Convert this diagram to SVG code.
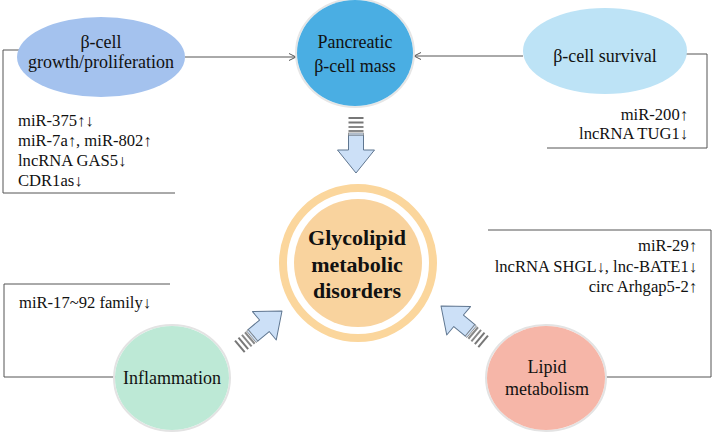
<svg xmlns="http://www.w3.org/2000/svg" width="713" height="435" viewBox="0 0 713 435">
<defs>
<marker id="open" markerUnits="userSpaceOnUse" markerWidth="10" markerHeight="10" viewBox="0 0 10 10" refX="8" refY="5" orient="auto">
<path d="M1 1.5 L8 5 L1 8.5" fill="none" stroke="#555" stroke-width="1"/>
</marker>
<g id="bigArrow">
<path d="M-7.5 -38 L7.5 -38 L7.5 -23 L18.5 -23 L0 0 L-18.5 -23 L-7.5 -23 Z" fill="#cce0f7" stroke="#5f7690" stroke-width="1" stroke-linejoin="round"/>
<rect x="-7.5" y="-56" width="15" height="2" fill="#777"/>
<rect x="-7.5" y="-51.5" width="15" height="2" fill="#777"/>
<rect x="-7.5" y="-47" width="15" height="2" fill="#888"/>
<rect x="-7.5" y="-43" width="15" height="2" fill="#888"/>
<rect x="-7.5" y="-40" width="15" height="2" fill="#cce0f7" stroke="#888" stroke-width="0.8"/>
</g>
</defs>
<style>
text{font-family:"Liberation Serif","Times New Roman",serif;fill:#111;}
.lbl{font-size:18px;text-anchor:middle;}
.lst{font-size:16.6px;}
.r{text-anchor:end;}
.main{font-size:22px;font-weight:bold;text-anchor:middle;}
.conn{fill:none;stroke:#555;stroke-width:1;}
</style>
<rect width="713" height="435" fill="#fff"/>

<g id="connectors">
<path class="conn" d="M19 50 H3 V193 H175"/>
<path class="conn" d="M185 57 H296" marker-end="url(#open)"/>
<path class="conn" d="M523 56 H414" marker-end="url(#open)"/>
<path class="conn" d="M686 54 H707 V148 H547"/>
<path class="conn" d="M116 377 H4 V284 H170"/>
<path class="conn" d="M604 377 H711 V230 H488"/>
<use href="#bigArrow" transform="translate(356,173)"/>
<use href="#bigArrow" transform="translate(282,311) rotate(-130)"/>
<use href="#bigArrow" transform="translate(441,306) rotate(130)"/>
</g>

<g id="growth">
<ellipse cx="101" cy="57" rx="84" ry="40" fill="#a4c2ee"/>
<text class="lbl" x="101" y="48">β-cell</text>
<text class="lbl" x="101" y="68">growth/proliferation</text>
<g class="lst">
<text x="18" y="126">miR-375↑↓</text>
<text x="18" y="146">miR-7a↑, miR-802↑</text>
<text x="18" y="166">lncRNA GAS5↓</text>
<text x="18" y="186">CDR1as↓</text>
</g>
</g>

<g id="mass">
<ellipse cx="355" cy="53" rx="59" ry="54" fill="none" stroke="#e6e6e6" stroke-width="2"/>
<ellipse cx="355" cy="53" rx="58" ry="53" fill="#4aaee3"/>
<text class="lbl" x="355" y="48">Pancreatic</text>
<text class="lbl" x="355" y="72">β-cell mass</text>
</g>

<g id="survival">
<ellipse cx="605" cy="51" rx="82" ry="43" fill="#bde3f6"/>
<text class="lbl" x="605" y="62">β-cell survival</text>
<g class="lst r">
<text x="688" y="120">miR-200↑</text>
<text x="688" y="139">lncRNA TUG1↓</text>
</g>
</g>

<g id="center">
<circle cx="358" cy="263" r="75" fill="none" stroke="#fbd69c" stroke-width="8"/>
<circle cx="358" cy="263" r="64" fill="#f9d39e"/>
<text class="main" x="357" y="245">Glycolipid</text>
<text class="main" x="357" y="272">metabolic</text>
<text class="main" x="357" y="298">disorders</text>
</g>

<g id="inflammation">
<ellipse cx="172" cy="378" rx="58" ry="53" fill="none" stroke="#e3e3e3" stroke-width="2"/>
<ellipse cx="172" cy="378" rx="57" ry="52" fill="#bde9d6"/>
<text class="lbl" x="172" y="384">Inflammation</text>
<text class="lst" x="19" y="308">miR-17~92 family↓</text>
</g>

<g id="lipid">
<ellipse cx="546" cy="378" rx="60" ry="53" fill="none" stroke="#e3e3e3" stroke-width="2"/>
<ellipse cx="546" cy="378" rx="59" ry="52" fill="#f6b6a8"/>
<text class="lbl" x="547" y="373">Lipid</text>
<text class="lbl" x="547" y="395">metabolism</text>
<g class="lst r">
<text x="697" y="251">miR-29↑</text>
<text x="697" y="272">lncRNA SHGL↓, lnc-BATE1↓</text>
<text x="697" y="292">circ Arhgap5-2↑</text>
</g>
</g>
</svg>
